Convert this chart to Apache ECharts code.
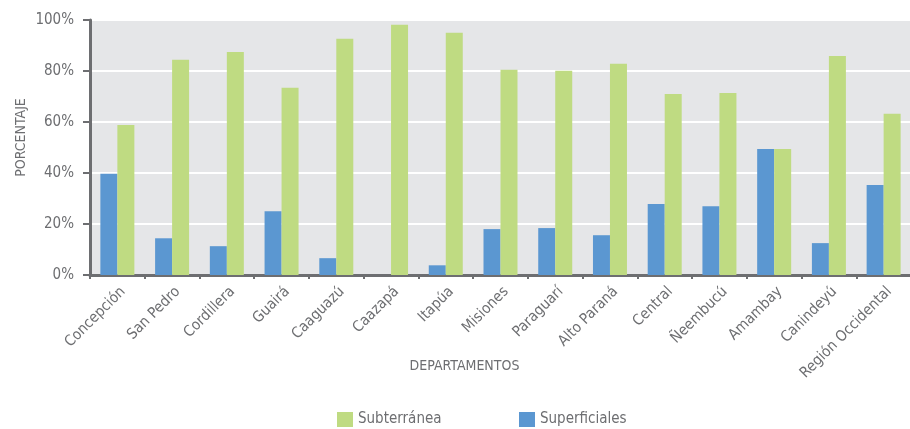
<!DOCTYPE html>
<html>
<head>
<meta charset="utf-8">
<script src="https://cdn.jsdelivr.net/npm/echarts@6/dist/echarts.min.js"></script>
<style>
  html, body { margin: 0; padding: 0; background: #ffffff; }
  #chart { width: 910px; height: 429px; }
</style>
</head>
<body>
<div id="chart"></div>
<script>
// Departamentos y porcentaje de fuentes de agua
const departamentos = ['Concepción', 'San Pedro', 'Cordillera', 'Guairá', 'Caaguazú', 'Caazapá', 'Itapúa',
  'Misiones', 'Paraguarí', 'Alto Paraná', 'Central', 'Ñeembucú', 'Amambay', 'Canindeyú', 'Región Occidental'];
const superficiales = [39.7, 14.4, 11.3, 25.0, 6.6, 0, 3.8, 18.0, 18.4, 15.6, 27.8, 27.0, 49.4, 12.5, 35.3];
const subterranea = [58.8, 84.4, 87.5, 73.4, 92.6, 98.1, 95.0, 80.5, 80.1, 82.8, 71.0, 71.4, 49.4, 85.9, 63.2];
const yTicks = [0, 20, 40, 60, 80, 100];

const FONT = '"DejaVu Sans Condensed", "Liberation Sans Narrow", sans-serif';
const TXT = '#6d6e71';
const legendText = { fontFamily: FONT, fontSize: 15, color: TXT };

const chart = echarts.init(document.getElementById('chart'));
chart.setOption({
  backgroundColor: '#ffffff',
  animation: false,
  textStyle: { fontFamily: FONT },
  grid: { left: 90, right: -1, top: 20, bottom: 154, outerBoundsMode: 'none',
          show: true, backgroundColor: '#e5e6e8', borderWidth: 0 },
  legend: [
    { data: ['Subterránea'], top: 407, left: 332, itemWidth: 16, itemHeight: 15, icon: 'rect', textStyle: legendText },
    { data: ['Superficiales'], top: 407, left: 514, itemWidth: 16, itemHeight: 15, icon: 'rect', textStyle: legendText }
  ],
  xAxis: {
    type: 'category',
    data: departamentos,
    name: 'DEPARTAMENTOS',
    nameLocation: 'middle',
    nameGap: 84,
    nameMoveOverlap: false,
    nameTextStyle: { fontFamily: FONT, fontSize: 14, color: TXT, padding: [0, 72, 0, 0] },
    axisLine: { lineStyle: { color: '#6d6e71', width: 3 } },
    axisTick: { show: true, length: 4, lineStyle: { color: '#6d6e71', width: 2 } },
    axisLabel: { rotate: 45, fontFamily: FONT, fontSize: 15, color: TXT, margin: 20, interval: 0, padding: [0, -8, 0, 0] }
  },
  yAxis: {
    type: 'value',
    min: 0, max: 100, interval: 20,
    name: 'PORCENTAJE',
    nameLocation: 'middle',
    nameGap: 62,
    nameMoveOverlap: false,
    nameTextStyle: { fontFamily: FONT, fontSize: 14, color: TXT, padding: [0, 0, 0, 20] },
    axisLine: { show: true, lineStyle: { color: '#6d6e71', width: 3 } },
    axisTick: { show: true, length: 7, lineStyle: { color: '#6d6e71', width: 2 } },
    splitLine: { lineStyle: { color: '#ffffff', width: 2 } },
    axisLabel: { formatter: v => yTicks.includes(v) ? v + '%' : '', fontFamily: FONT, fontSize: 15, color: TXT, margin: 16 }
  },
  series: [
    {
      name: 'Superficiales', type: 'bar', data: superficiales,
      barWidth: 17, barGap: '0%',
      itemStyle: { color: '#5b97d1' }
    },
    {
      name: 'Subterránea', type: 'bar', data: subterranea,
      barWidth: 17, barGap: '0%',
      itemStyle: { color: '#bfdb82' }
    }
  ]
});
</script>
</body>
</html>
